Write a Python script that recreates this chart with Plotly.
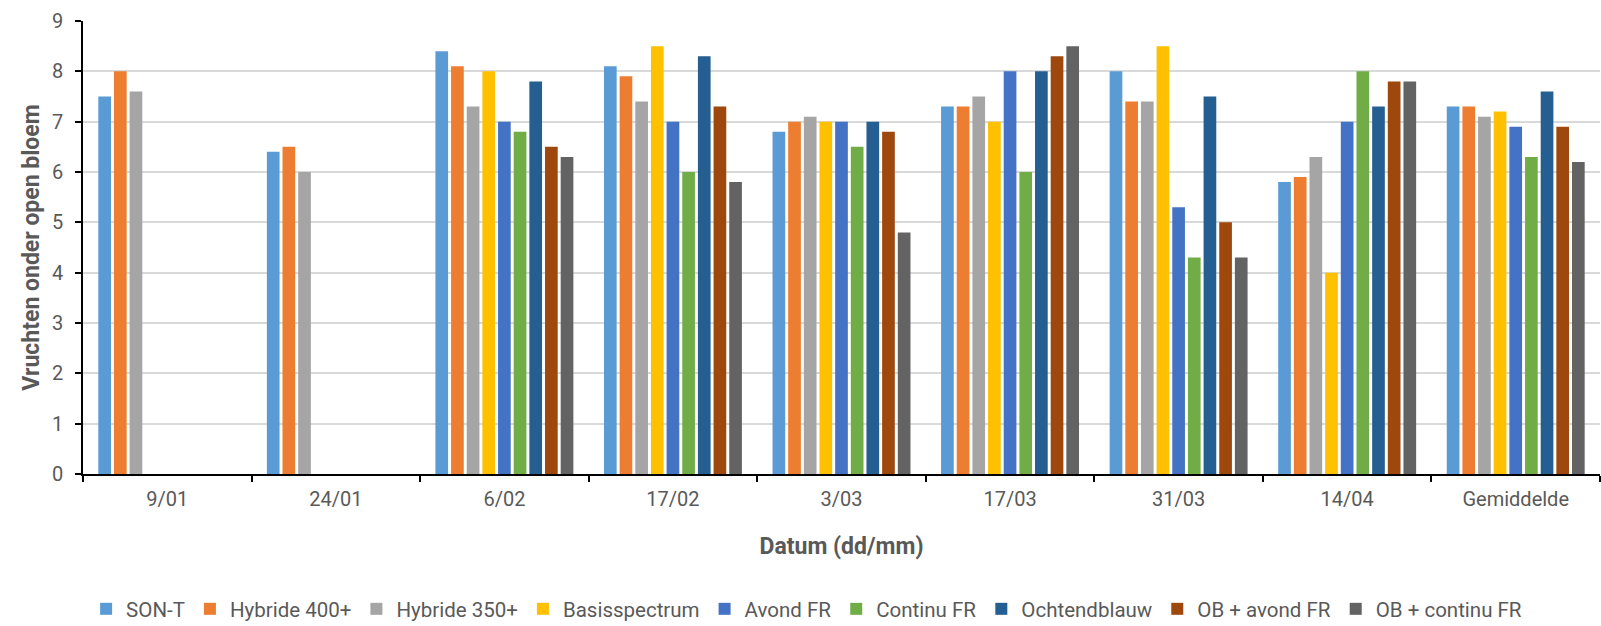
import plotly.graph_objects as go

categories = ["9/01", "24/01", "6/02", "17/02", "3/03", "17/03", "31/03", "14/04", "Gemiddelde"]

son_t = [7.5, 6.4, 8.4, 8.1, 6.8, 7.3, 8.0, 5.8, 7.3]
hybride_400 = [8.0, 6.5, 8.1, 7.9, 7.0, 7.3, 7.4, 5.9, 7.3]
hybride_350 = [7.6, 6.0, 7.3, 7.4, 7.1, 7.5, 7.4, 6.3, 7.1]
basisspectrum = [None, None, 8.0, 8.5, 7.0, 7.0, 8.5, 4.0, 7.2]
avond_fr = [None, None, 7.0, 7.0, 7.0, 8.0, 5.3, 7.0, 6.9]
continu_fr = [None, None, 6.8, 6.0, 6.5, 6.0, 4.3, 8.0, 6.3]
ochtendblauw = [None, None, 7.8, 8.3, 7.0, 8.0, 7.5, 7.3, 7.6]
ob_avond_fr = [None, None, 6.5, 7.3, 6.8, 8.3, 5.0, 7.8, 6.9]
ob_continu_fr = [None, None, 6.3, 5.8, 4.8, 8.5, 4.3, 7.8, 6.2]

series = [
    ("SON-T", son_t, "#5B9BD5"),
    ("Hybride 400+", hybride_400, "#ED7D31"),
    ("Hybride 350+", hybride_350, "#A5A5A5"),
    ("Basisspectrum", basisspectrum, "#FFC000"),
    ("Avond FR", avond_fr, "#4472C4"),
    ("Continu FR", continu_fr, "#70AD47"),
    ("Ochtendblauw", ochtendblauw, "#255E91"),
    ("OB + avond FR", ob_avond_fr, "#9E480E"),
    ("OB + continu FR", ob_continu_fr, "#636363"),
]

FONT = "Roboto, Open Sans, sans-serif"
TEXT = "#595959"

fig = go.Figure()
for name, vals, color in series:
    fig.add_trace(go.Bar(
        x=categories, y=vals, name=name,
        marker=dict(color=color, line=dict(width=0)),
    ))

fig.update_layout(
    width=1601, height=626,
    margin=dict(l=83, r=1, t=21, b=152, autoexpand=False),
    paper_bgcolor="white", plot_bgcolor="white",
    barmode="group", bargap=0.164, bargroupgap=0.19,
    font=dict(family=FONT, color=TEXT, size=19),
    showlegend=True,
    legend=dict(
        orientation="h", x=0.477, xanchor="center", y=-0.298, yanchor="middle",
        font=dict(size=20.5, color=TEXT), itemwidth=30, traceorder="normal",
    ),
)

fig.update_xaxes(
    type="category", tickson="boundaries", automargin=False,
    showline=True, linecolor="black", linewidth=1.5,
    ticks="outside", ticklen=6, tickcolor="black", tickwidth=1.5,
    tickfont=dict(family=FONT, size=20, color=TEXT),
    ticklabelstandoff=6,
    title=dict(text="<b>Datum (dd/mm)</b>", font=dict(family=FONT, size=23, color=TEXT), standoff=28),
    showgrid=False,
)
fig.update_yaxes(
    range=[0, 9], dtick=1, tick0=0, automargin=False,
    showline=True, linecolor="black", linewidth=1.5,
    ticks="outside", ticklen=6, tickcolor="black", tickwidth=1.5,
    tickfont=dict(family=FONT, size=20, color=TEXT),
    ticklabelstandoff=8,
    showgrid=True, gridcolor="#D9D9D9", gridwidth=1.5,
    zeroline=False,
    title=dict(text="<b>Vruchten onder open bloem</b>", font=dict(family=FONT, size=23, color=TEXT), standoff=6),
)

fig.write_html("out.html")
